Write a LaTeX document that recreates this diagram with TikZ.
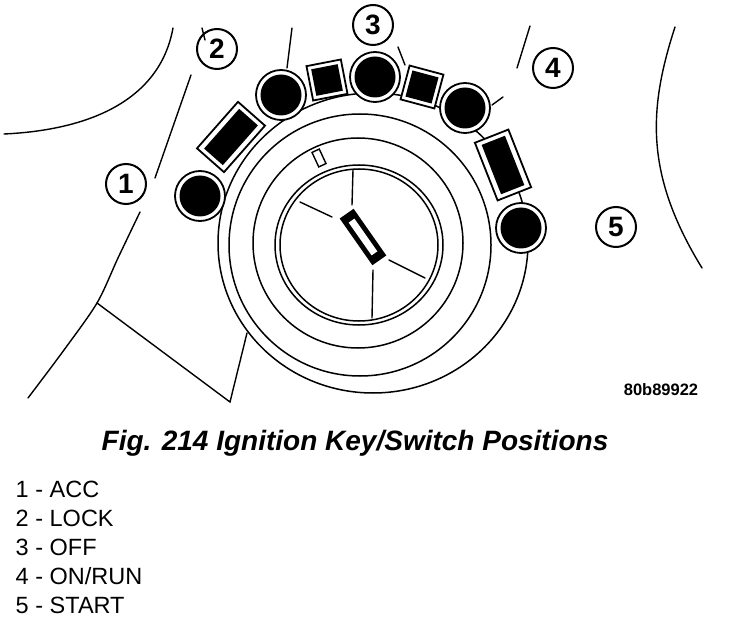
\documentclass[tikz,border=0pt]{standalone}
\usepackage{fontspec}
\setmainfont{Liberation Sans}
\begin{document}
\begin{tikzpicture}[x=1pt,y=-1pt,line width=1.5pt,line cap=round,
  knob/.style={circle,draw,line width=1.8pt,fill=white,minimum size=50pt,inner sep=0pt},
  disc/.style={circle,fill=black,minimum size=41pt,inner sep=0pt},
  sqbox/.style={rectangle,draw,line width=1.8pt,fill=white,minimum size=35pt,inner sep=0pt},
  sqin/.style={rectangle,fill=black,minimum size=27pt,inner sep=0pt},
  rectbox/.style={rectangle,draw,line width=1.8pt,fill=white,minimum width=62pt,minimum height=36pt,inner sep=0pt},
  rectin/.style={rectangle,fill=black,minimum width=53pt,minimum height=25pt,inner sep=0pt},
  num/.style={circle,draw,line width=2pt,minimum size=40pt,inner sep=0pt,font=\fontsize{28}{28}\selectfont\bfseries},
  legend/.style={anchor=base west,inner sep=0pt,font=\fontsize{23.5}{23.5}\selectfont},
  thin/.style={line width=1.4pt}]
\useasboundingbox (0,0) rectangle (736,620);
\fill[white] (0,0) rectangle (736,620);

% background contours
\draw[thin] (173,28) .. controls (160,100) and (90,130) .. (4,134);
\draw[thin] (191,75) -- (155,178);
\draw[thin] (202,28) -- (205,40);
\draw[thin] plot[smooth] coordinates {(140,212) (118,258) (97,303) (64,350) (28,398)};
\coordinate (vl) at (97,303);
\coordinate (vb) at (230,402);
\coordinate (vt) at (247,333);
\draw[thin] (vl) -- (vb) -- (vt);
\draw[thin] (675,27) .. controls (648,110) and (645,175) .. (702,268);
\draw[thin] (530,26) -- (517,68);
\draw[thin] (292,28) -- (287,68);
\draw[thin] (398,47) -- (405,65);
\draw[thin] (492,105) -- (503,97);

% rings
\draw (373,243) ellipse [x radius=155, y radius=150];
\draw (360,245) circle [radius=131];
\draw (358,243) circle [radius=105];
\draw (359,245) ellipse [x radius=84, y radius=80];
\draw (359,245) ellipse [x radius=79, y radius=76];

% position marker on ring
\node[rectangle,draw,line width=1.4pt,fill=white,minimum width=16pt,minimum height=8pt,inner sep=0pt,rotate=115] (mark) at (319,158) {};

% key radial lines
\draw[thin] (353,170) -- (352,205);
\draw[thin] (300,202) -- (332,217);
\draw[thin] (389,260) -- (425,278);
\draw[thin] (373,270) -- (372,318);

% key slot
\node[rectangle,fill=black,minimum width=57pt,minimum height=17pt,inner sep=0pt,rotate=-55] (key) at (363,237) {};
\node[rectangle,fill=white,minimum width=40pt,minimum height=7pt,inner sep=0pt,rotate=-55] (keyslot) at (363,237) {};

% switch position blocks
\node[rectbox,rotate=48.6] (r1) at (231,137) {};
\node[rectin,rotate=48.6] (r1i) at (231,137) {};
\node[rectbox,rotate=-68.5] (r2) at (503,165) {};
\node[rectin,rotate=-68.5] (r2i) at (503,165) {};
\node[sqbox,rotate=11] (s1) at (327,80) {};
\node[sqin,rotate=11] (s1i) at (327,80) {};
\node[sqbox,rotate=-15] (s2) at (422,87) {};
\node[sqin,rotate=-15] (s2i) at (422,87) {};
\foreach \n/\p in {1/{(200,196)},2/{(281,95)},3/{(375,77)},4/{(465,108)},5/{(521,228)}}{
  \node[knob] (k\n) at \p {};
  \node[disc] (d\n) at \p {};
}

% circled numbers
\node[num] (n1) at (126,184) {1};
\node[num] (n2) at (217,49) {2};
\node[num] (n3) at (373,25) {3};
\node[num] (n4) at (553,68) {4};
\node[num] (n5) at (616,227) {5};

% texts
\node[inner sep=0pt,font=\fontsize{16.5}{16.5}\selectfont\bfseries] (code) at (661,390) {80b89922};
\node[inner sep=0pt,font=\fontsize{28}{28}\selectfont\bfseries\itshape] (cap) at (355,443) {Fig. 214 Ignition Key/Switch Positions};
\node[legend] (l1) at (15,497) {1 - ACC};
\node[legend] (l2) at (15,526) {2 - LOCK};
\node[legend] (l3) at (15,555) {3 - OFF};
\node[legend] (l4) at (15,584) {4 - ON/RUN};
\node[legend] (l5) at (15,613) {5 - START};
\end{tikzpicture}
\end{document}
